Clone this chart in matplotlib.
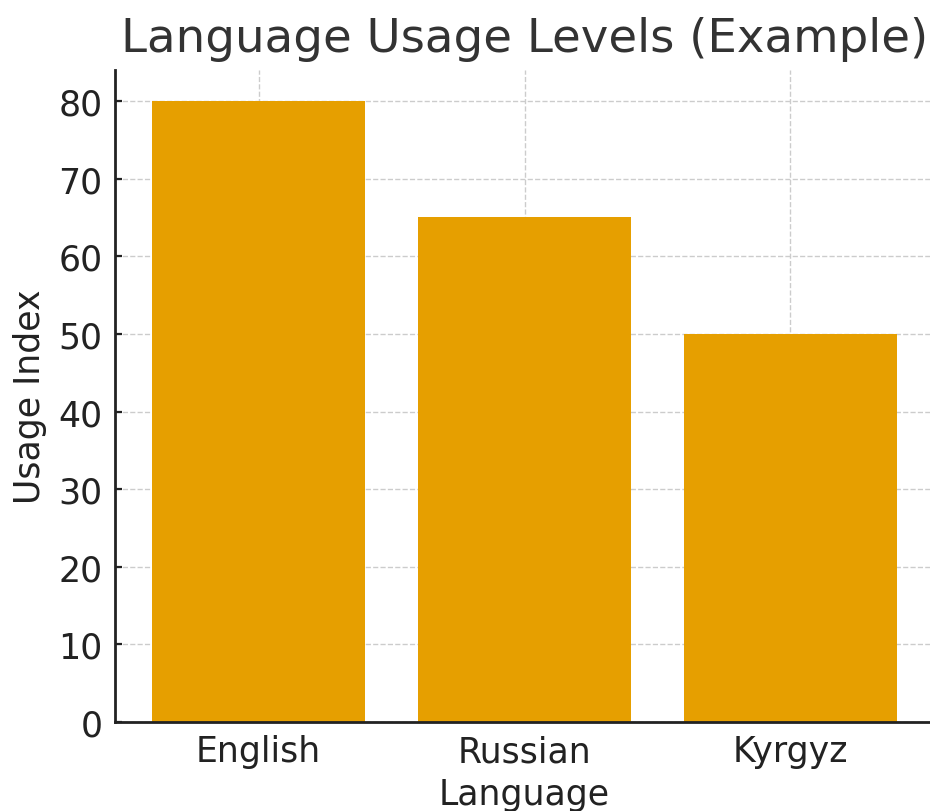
import matplotlib.pyplot as plt

languages = ['English', 'Russian', 'Kyrgyz']
usage_index = [80, 65, 50]
bar_color = '#E69F00'

fig = plt.figure(figsize=(9.3, 8.12), dpi=100)
ax = fig.add_axes([115/930, 89/812, 819/930, 652/812])

ax.bar(languages, usage_index, color=bar_color, width=0.8, zorder=2)
ax.set_ylim(0, 84)
ax.set_xlim(-0.54, 2.54)

ax.grid(True, linestyle='--', color='#cccccc', linewidth=1, zorder=0)
ax.spines['top'].set_visible(False)
ax.spines['right'].set_visible(False)
for s in ('left', 'bottom'):
    ax.spines[s].set_linewidth(2)
    ax.spines[s].set_color('#222222')

ax.tick_params(labelsize=25, colors='#222222', direction='in', length=5,
               width=1.6, pad=9)
ax.set_title('Language Usage Levels (Example)', fontsize=33.6, color='#333333', pad=14)
ax.set_xlabel('Language', fontsize=25, color='#222222', labelpad=6)
ax.set_ylabel('Usage Index', fontsize=25, color='#222222', labelpad=8)

fig.savefig('out.png', dpi=100)
